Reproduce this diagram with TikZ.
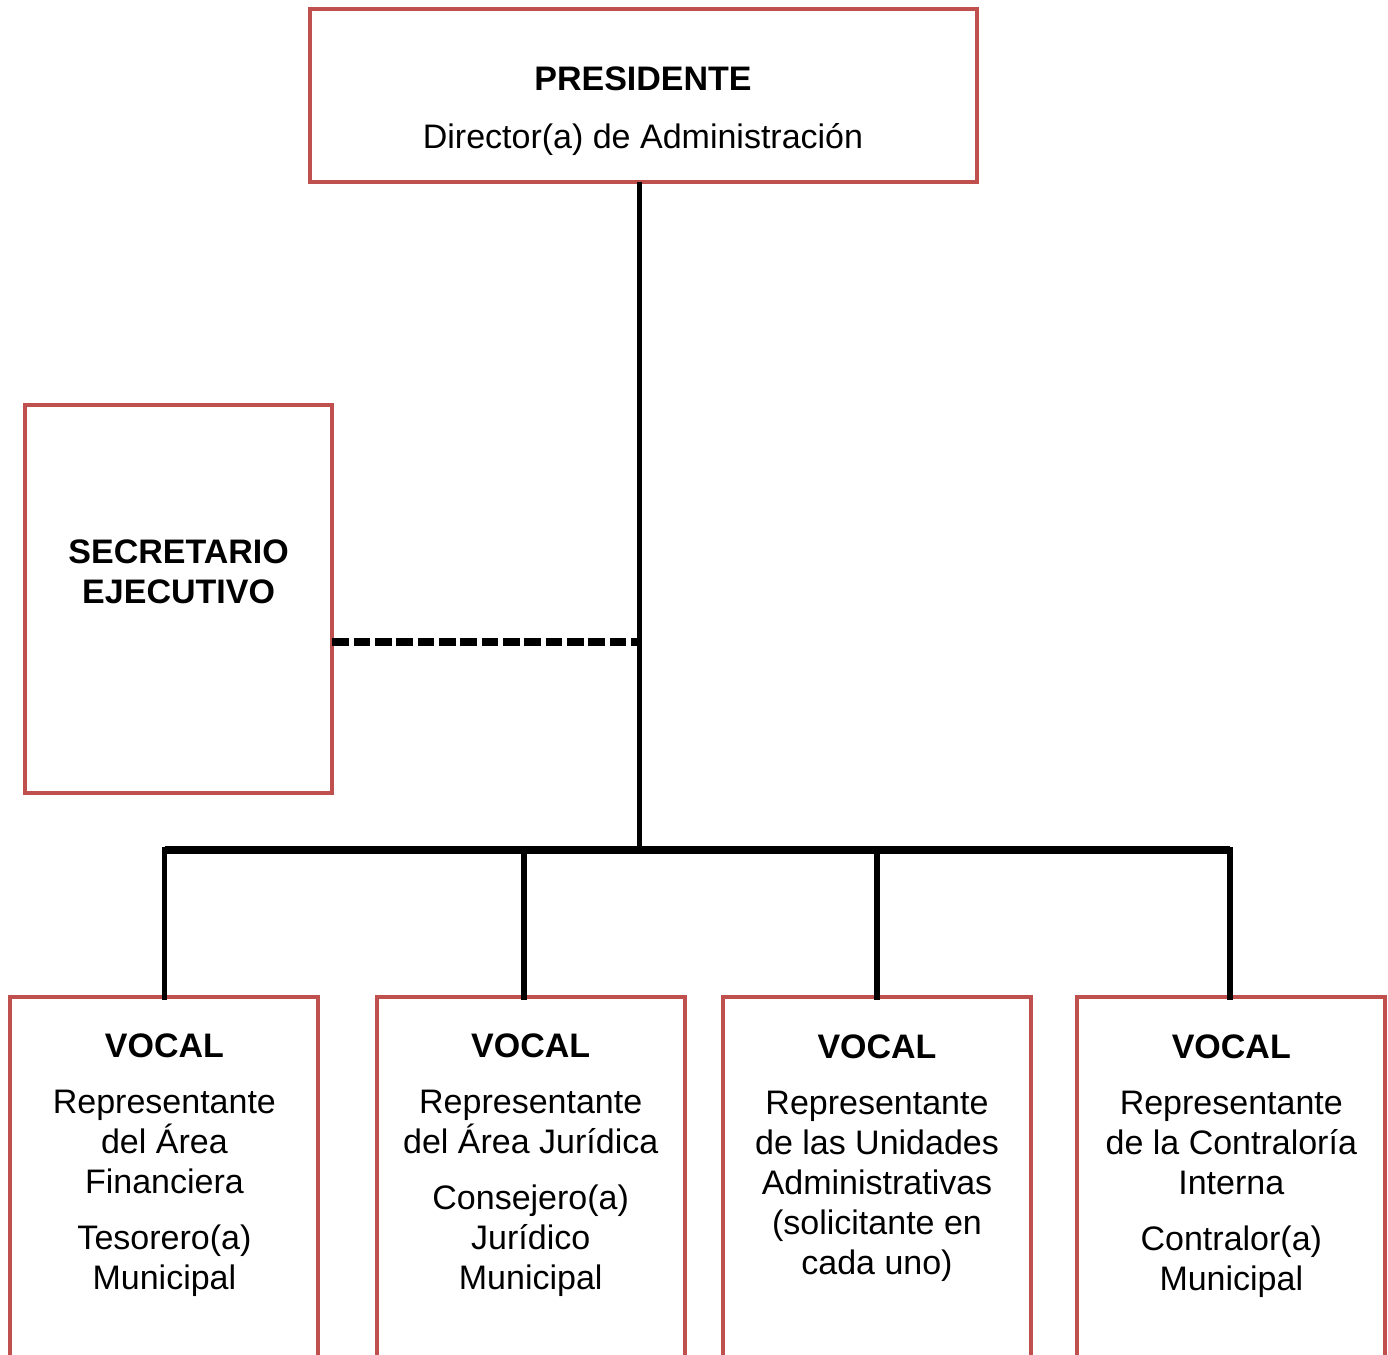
\documentclass[tikz,border=0pt]{standalone}
\usepackage{fontspec}
\setmainfont{Liberation Sans}
\usetikzlibrary{positioning}

\definecolor{rojocaja}{RGB}{192,80,77}

\tikzset{every picture/.style={line width=0.75pt}}
\tikzset{
  caja/.style={draw=rojocaja, line width=3pt, inner sep=0pt, outer sep=0pt},
  cajavocal/.style={caja, minimum width=231pt, minimum height=375pt},
  texto/.style={align=center, inner sep=0pt, anchor=north, font=\fontsize{25.5}{30}\selectfont},
  linea/.style={draw=black, line width=4pt},
  barra/.style={draw=black, line width=6pt},
  enlace/.style={draw=black, line width=5.5pt, dash pattern=on 12.5pt off 3.5pt}
}

\begin{document}
\begin{tikzpicture}[x=0.75pt,y=0.75pt,yscale=-1,xscale=1]
\path[use as bounding box, clip] (0,0) rectangle (1388,1355);

%Shape: Rectangle [presidente]
\node[caja, minimum width=500.25pt, minimum height=129.75pt] (pres) at (643,95.5) {};
%Shape: Rectangle [secretario]
\node[caja, minimum width=230.8pt, minimum height=290.9pt] (sec) at (178.6,599.1) {};
%Shape: Rectangle [vocales]
\node[cajavocal] (voc1) at (164.4,1247.3) {};
\node[cajavocal] (voc2) at (530.7,1247.3) {};
\node[cajavocal] (voc3) at (877,1247.3) {};
\node[cajavocal] (voc4) at (1231.3,1247.3) {};

%Coordinates on the lines
\coordinate (tronco) at (639.5,850);
\coordinate (cruce) at (639.5,642);
\coordinate (bus1) at (164.5,850);
\coordinate (bus2) at (524,850);
\coordinate (bus3) at (877,850);
\coordinate (bus4) at (1230,850);

%Straight Lines
\draw[linea] (pres.south -| tronco) -- (tronco);
\draw[barra] (bus1) -- (bus4);
\foreach \i in {1,...,4}
  \draw[linea, line cap=rect] (bus\i) -- (bus\i |- voc\i.north);
%Straight Lines [dashed]
\draw[enlace] (cruce -| sec.east) -- (cruce);

% Text Node
\node[texto, below=43.3pt of pres.north] (tpres) {\textbf{PRESIDENTE}\\[12.8pt]Director(a) de Administración};
% Text Node
\node[texto, below=100.9pt of sec.north] (tsec) {\textbf{SECRETARIO}\\\textbf{EJECUTIVO}};
% Text Node
\node[texto, below=26.8pt of voc1.north] (tvoc1) {\textbf{VOCAL}\\[12pt]Representante\\del Área\\Financiera\\[12pt]Tesorero(a)\\Municipal};
% Text Node
\node[texto, below=26.8pt of voc2.north] (tvoc2) {\textbf{VOCAL}\\[12pt]Representante\\del Área Jurídica\\[12pt]Consejero(a)\\Jurídico\\Municipal};
% Text Node
\node[texto, below=27.8pt of voc3.north] (tvoc3) {\textbf{VOCAL}\\[12pt]Representante\\de las Unidades\\Administrativas\\(solicitante en\\cada uno)};
% Text Node
\node[texto, below=27.8pt of voc4.north] (tvoc4) {\textbf{VOCAL}\\[12pt]Representante\\de la Contraloría\\Interna\\[12pt]Contralor(a)\\Municipal};

\end{tikzpicture}
\end{document}
